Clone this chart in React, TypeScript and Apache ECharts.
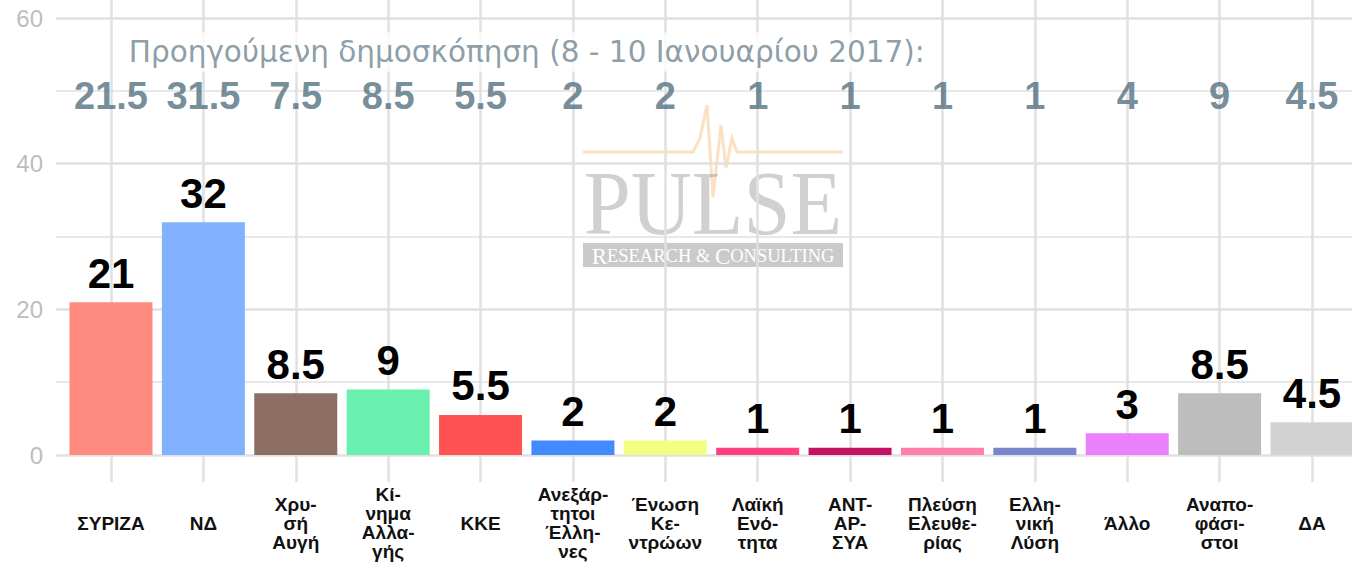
import React, { useEffect, useRef } from "react";
import * as echarts from "echarts";

const categories = [
  "ΣΥΡΙΖΑ",
  "ΝΔ",
  "Χρυ-\nσή\nΑυγή",
  "Κί-\nνημα\nΑλλα-\nγής",
  "ΚΚΕ",
  "Ανεξάρ-\nτητοι\nΈλλη-\nνες",
  "Ένωση\nΚε-\nντρώων",
  "Λαϊκή\nΕνό-\nτητα",
  "ΑΝΤ-\nΑΡ-\nΣΥΑ",
  "Πλεύση\nΕλευθε-\nρίας",
  "Ελλη-\nνική\nΛύση",
  "Άλλο",
  "Αναπο-\nφάσι-\nστοι",
  "ΔΑ",
];

const currentValues = [21, 32, 8.5, 9, 5.5, 2, 2, 1, 1, 1, 1, 3, 8.5, 4.5];
const previousValues = [21.5, 31.5, 7.5, 8.5, 5.5, 2, 2, 1, 1, 1, 1, 4, 9, 4.5];

const barColors = [
  "#ff8a80",
  "#82b1ff",
  "#8d6e63",
  "#69f0ae",
  "#ff5252",
  "#448aff",
  "#f4ff81",
  "#ff4081",
  "#c51162",
  "#ff80ab",
  "#7986cb",
  "#ea80fc",
  "#bdbdbd",
  "#d3d3d3",
];

const yTicks = { min: 0, max: 60, interval: 20 };
const previousTitle = "Προηγούμενη δημοσκόπηση (8 - 10 Ιανουαρίου 2017):";
const previousRowY = 49.3;
const titleY = 55.4;
const titleX = 4.5;

const fmt = (v: number) => (Number.isInteger(v) ? String(v) : v.toFixed(1));

const SANS = '"Liberation Sans", Arial, sans-serif';
const SERIF = '"Liberation Serif", "Times New Roman", serif';

export default function App() {
  const ref = useRef<HTMLDivElement>(null);

  useEffect(() => {
    if (!ref.current) return;
    const chart = echarts.init(ref.current, undefined, { renderer: "svg" });

    const gridColor = "#e0e0e0";

    const option: any = {
      animation: false,
      backgroundColor: "#ffffff",
      grid: [
        { left: 56, top: 18, width: 1312, height: 437, containLabel: false },
        { left: 111, top: 0, width: 1201, height: 482, containLabel: false },
      ],
      xAxis: [
        { gridIndex: 0, type: "value", min: 0, max: 1, show: false },
        {
          gridIndex: 1,
          type: "value",
          min: 0,
          max: categories.length - 1,
          interval: 1,
          axisLine: { show: false },
          axisTick: { show: false },
          splitLine: { show: true, lineStyle: { color: gridColor, width: 2.5 } },
          axisLabel: {
            formatter: (v: number) => categories[Math.round(v)] ?? "",
            color: "#111111",
            fontFamily: SANS,
            fontWeight: "bold",
            fontSize: 19,
            lineHeight: 19,
            align: "center",
            verticalAlign: "middle",
            margin: 41,
          },
        },
      ],
      yAxis: [
        {
          gridIndex: 0,
          type: "value",
          min: yTicks.min,
          max: yTicks.max,
          interval: yTicks.interval,
          axisLine: { show: false },
          axisTick: { show: false },
          axisLabel: {
            color: "#bdbdbd",
            fontSize: 24,
            fontFamily: SANS,
            margin: 13,
          },
          splitLine: { show: true, lineStyle: { color: gridColor, width: 2.5 } },
          minorTick: { show: false, splitNumber: 2 },
          minorSplitLine: { show: true, lineStyle: { color: "#e8e8e8", width: 1.8 } },
        },
        {
          gridIndex: 1,
          type: "value",
          min: -3.71,
          max: 62.54,
          show: false,
          splitLine: { show: false },
        },
      ],
      series: [
        {
          type: "bar",
          xAxisIndex: 1,
          yAxisIndex: 1,
          barWidth: 83,
          z: 3,
          data: currentValues.map((v, i) => ({
            value: [i, v],
            itemStyle: { color: barColors[i] },
          })),
          label: {
            show: true,
            position: "top",
            distance: 8,
            color: "#000000",
            fontFamily: SANS,
            fontWeight: "bold",
            fontSize: 42,
            formatter: (p: any) => fmt(currentValues[p.dataIndex]),
          },
        },
        {
          type: "scatter",
          xAxisIndex: 1,
          yAxisIndex: 1,
          symbolSize: 1,
          itemStyle: { color: "transparent" },
          silent: true,
          z: 4,
          data: previousValues.map((_, i) => [i, previousRowY]),
          label: {
            show: true,
            position: "inside",
            color: "#52707f",
            fontFamily: SANS,
            fontWeight: "bold",
            fontSize: 38,
            textBorderWidth: 0,
            formatter: (p: any) => fmt(previousValues[p.dataIndex]),
          },
        },
        {
          type: "scatter",
          xAxisIndex: 1,
          yAxisIndex: 1,
          symbolSize: 1,
          itemStyle: { color: "transparent" },
          silent: true,
          z: 4,
          data: [[titleX, titleY]],
          label: {
            show: true,
            position: "inside",
            color: "#6f8592",
            fontFamily: '"DejaVu Sans", "Liberation Sans", sans-serif',
            fontSize: 29.5,
            backgroundColor: "#ffffff",
            padding: [5, 8, 4, 8],
            textBorderWidth: 0,
            formatter: () => previousTitle,
          },
        },
      ],
      graphic: [
        {
          type: "group",
          z: 10,
          silent: true,
          children: [
            {
              type: "polyline",
              shape: {
                points: [
                  [583, 152],
                  [693, 152],
                  [700, 138],
                  [707, 105],
                  [713, 197],
                  [721, 125],
                  [726, 168],
                  [732, 138],
                  [737, 152],
                  [843, 152],
                ],
              },
              style: { stroke: "rgba(240,170,80,0.35)", lineWidth: 3, fill: null },
            },
            {
              type: "text",
              x: 713,
              y: 203,
              scaleX: 0.92,
              originX: 0,
              originY: 0,
              style: {
                text: "PULSE",
                font: `92px ${SERIF}`,
                fill: "rgba(150,150,150,0.45)",
                align: "center",
                verticalAlign: "middle",
              },
            },
            {
              type: "rect",
              shape: { x: 583, y: 243, width: 260, height: 24 },
              style: { fill: "rgba(128,128,128,0.42)" },
            },
            {
              type: "text",
              x: 713,
              y: 256,
              style: {
                text: "{b|R}{s|ESEARCH & }{b|C}{s|ONSULTING}",
                align: "center",
                verticalAlign: "middle",
                fill: "#ffffff",
                rich: {
                  b: { fontFamily: SERIF, fontSize: 23, fill: "#ffffff", color: "#ffffff" },
                  s: { fontFamily: SERIF, fontSize: 18.5, fill: "#ffffff", color: "#ffffff" },
                },
              },
            },
          ],
        },
      ],
    };

    chart.setOption(option);
    return () => chart.dispose();
  }, []);

  return (
    <div
      ref={ref}
      style={{ position: "absolute", left: 0, top: 0, width: 1352, height: 576 }}
    />
  );
}
